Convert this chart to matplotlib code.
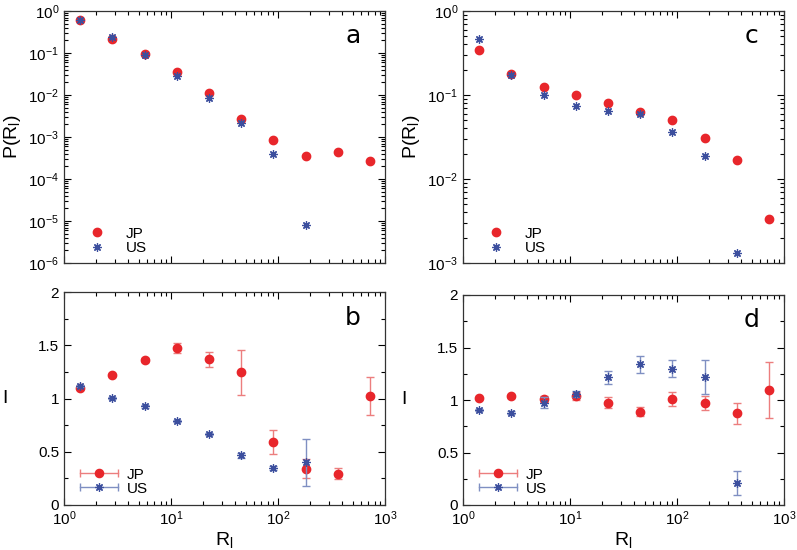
import numpy as np
import matplotlib.pyplot as plt
from matplotlib.lines import Line2D
from matplotlib.legend_handler import HandlerLine2D, HandlerTuple
from matplotlib.ticker import LogLocator, MultipleLocator, NullFormatter

plt.rcParams['font.family'] = ['Liberation Sans', 'DejaVu Sans']
plt.rcParams['mathtext.fontset'] = 'custom'
plt.rcParams['mathtext.rm'] = 'Liberation Sans'
plt.rcParams['mathtext.it'] = 'Liberation Sans'

# bin centres R_l
r_bins = [1.41, 2.83, 5.66, 11.3, 22.6, 45.3, 90.5, 181, 362, 724]

# panel a : P(R_l)
pa_jp = [0.62, 0.21, 0.095, 0.036, 0.011, 0.0027, 0.00085, 0.00036, 0.00044, 0.00027]
pa_us = [0.62, 0.24, 0.088, 0.028, 0.0085, 0.0021, 0.0004, 8e-6]

# panel c : P(R_l)
pc_jp = [0.34, 0.18, 0.125, 0.1, 0.08, 0.063, 0.05, 0.031, 0.017, 0.0033]
pc_us = [0.46, 0.175, 0.1, 0.074, 0.065, 0.059, 0.036, 0.019, 0.0013]

# panel b : I with errors
ib_jp = [1.10, 1.22, 1.36, 1.475, 1.37, 1.245, 0.59, 0.34, 0.295, 1.025]
eb_jp = [0.01, 0.01, 0.02, 0.05, 0.07, 0.21, 0.115, 0.09, 0.05, 0.18]
ib_us = [1.115, 1.005, 0.925, 0.79, 0.67, 0.465, 0.345, 0.40]
eb_us = [0.01, 0.01, 0.01, 0.01, 0.01, 0.02, 0.02, 0.22]

# panel d : I with errors
id_jp = [1.02, 1.035, 1.01, 1.04, 0.975, 0.89, 1.01, 0.97, 0.875, 1.095]
ed_jp = [0.01, 0.015, 0.03, 0.04, 0.05, 0.04, 0.065, 0.065, 0.1, 0.27]
id_us = [0.905, 0.88, 0.975, 1.06, 1.215, 1.34, 1.30, 1.22, 0.21]
ed_us = [0.01, 0.015, 0.05, 0.03, 0.065, 0.08, 0.085, 0.16, 0.115]

red = '#e8262b'
blue = '#3c4f9e'
red_l = '#ec7e7e'
blue_l = '#7f8fc2'
star = (8, 2, 0)

fig = plt.figure(figsize=(7.97, 5.5), dpi=100)
W, H = 797, 550


def make_ax(l, t, r, b):
    return fig.add_axes([l / W, 1 - b / H, (r - l) / W, (b - t) / H])


ax_a = make_ax(64, 11, 385, 263)
ax_c = make_ax(463, 11, 784, 263)
ax_b = make_ax(64, 292, 385, 505)
ax_d = make_ax(463, 295, 784, 505)


def style(ax):
    ax.set_xscale('log')
    ax.set_xlim(1, 1000)
    ax.tick_params(which='both', direction='in', top=True, right=True, labelsize=11)
    ax.tick_params(which='major', length=5, width=0.8)
    ax.tick_params(which='minor', length=3, width=0.8)
    ax.xaxis.set_minor_locator(LogLocator(base=10, subs=np.arange(2, 10)))
    ax.xaxis.set_minor_formatter(NullFormatter())
    for s in ax.spines.values():
        s.set_linewidth(0.9)
        s.set_color('#333333')


for ax, jp, us, lo, letter in [(ax_a, pa_jp, pa_us, 1e-6, 'a'), (ax_c, pc_jp, pc_us, 1e-3, 'c')]:
    style(ax)
    ax.set_yscale('log')
    ax.set_ylim(lo, 1)
    ax.yaxis.set_minor_locator(LogLocator(base=10, subs=np.arange(2, 10), numticks=20))
    ax.yaxis.set_minor_formatter(NullFormatter())
    ax.plot(r_bins[:len(jp)], jp, 'o', color=red, ms=6, label='JP', zorder=3)
    ax.plot(r_bins[:len(us)], us, ls='none', marker=star, color=blue, ms=6, mew=0.9, label='US', zorder=4)
    ax.set_ylabel(r'P(R$_\mathrm{l}$)', fontsize=14)
    ax.text(0.9, 0.9, letter, transform=ax.transAxes, fontsize=18, ha='center', va='center',
            family='DejaVu Sans')
    ax.legend(loc='lower left', frameon=False, fontsize=11, handletextpad=0.9,
              borderaxespad=0.1, labelspacing=0.05, bbox_to_anchor=(0.03, 0.0))
    ax.tick_params(axis='x', labelbottom=False)

for ax, jp, ejp, us, eus, letter in [(ax_b, ib_jp, eb_jp, ib_us, eb_us, 'b'),
                                     (ax_d, id_jp, ed_jp, id_us, ed_us, 'd')]:
    style(ax)
    ax.set_ylim(0, 2)
    ax.yaxis.set_minor_locator(MultipleLocator(0.25))
    ax.set_yticks([0, 0.5, 1, 1.5, 2])
    ax.set_yticklabels(['0', '0.5', '1', '1.5', '2'])
    ax.errorbar(r_bins[:len(jp)], jp, yerr=ejp, fmt='o', color=red, ecolor=red_l, ms=6,
                capsize=3, elinewidth=1, zorder=3)
    ax.errorbar(r_bins[:len(us)], us, yerr=eus, fmt='none', ecolor=blue_l, capsize=3,
                elinewidth=1, zorder=4)
    ax.plot(r_bins[:len(us)], us, ls='none', marker=star, color=blue, ms=6, mew=0.9, zorder=5)
    ax.set_ylabel('I', fontsize=14, rotation=0, labelpad=24, va='center')
    ax.set_xlabel(r'R$_\mathrm{l}$', fontsize=14, labelpad=1)
    ax.text(0.9, 0.88, letter, transform=ax.transAxes, fontsize=18, ha='center', va='center',
            family='DejaVu Sans')

    handles = []
    hmap = {}
    for c, cl, mk, ms in [(red, red_l, 'o', 6), (blue, blue_l, star, 6)]:
        cap = Line2D([], [], color=cl, marker='|', ms=6, lw=1)
        dot = Line2D([], [], color=c, marker=mk, ms=ms, mew=0.9, ls='none')
        handles.append((cap, dot))
        hmap[cap] = HandlerLine2D(numpoints=2, marker_pad=0)
    ax.legend(handles, ['JP', 'US'], handler_map={tuple: HandlerTuple(ndivide=1, pad=0), **hmap},
              loc='lower left', frameon=False, fontsize=11, handlelength=2.5,
              handletextpad=0.6, labelspacing=0.0, borderaxespad=0.2,
              bbox_to_anchor=(0.02, 0.0))

fig.savefig('out.png', dpi=100)
